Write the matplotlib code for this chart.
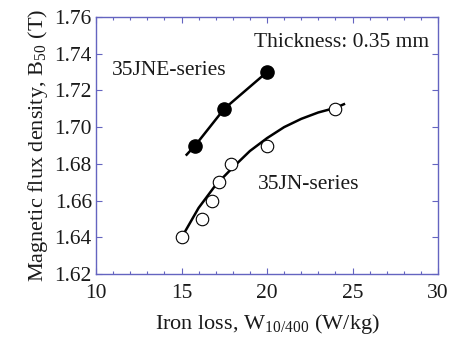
import numpy as np
import matplotlib
matplotlib.use('Agg')
import matplotlib.pyplot as plt
from matplotlib.ticker import MultipleLocator

plt.rcParams['font.family'] = ['Liberation Serif', 'DejaVu Serif']
plt.rcParams['mathtext.fontset'] = 'stix'

# measured points
jne_x = [15.8, 17.5, 20.0]
jne_y = [1.69, 1.71, 1.73]
jn_x = [15.0, 16.2, 16.8, 17.2, 17.9, 20.0, 24.0]
jn_y = [1.64, 1.65, 1.66, 1.67, 1.68, 1.69, 1.71]

# fitted curves
jne_fit_x = [15.3, 15.8, 17.5, 20.0]
jne_fit_y = [1.685, 1.690, 1.710, 1.730]
jn_fit_x = [15.2, 16.0, 17.0, 18.0, 19.0, 20.0, 21.0, 22.0, 23.0, 24.0, 24.5]
jn_fit_y = [1.643, 1.656, 1.6685, 1.678, 1.687, 1.694, 1.700, 1.7045, 1.708, 1.7105, 1.7125]

axcol = '#6464c0'
txtcol = '#1a1a1a'

fig = plt.figure(figsize=(4.51, 3.40), dpi=100)
ax = fig.add_axes([96/451, 1-274/340, (438-96)/451, (274-17)/340])

ax.plot(jne_fit_x, jne_fit_y, color='black', lw=1.8, zorder=2)
ax.plot(jn_fit_x, jn_fit_y, color='black', lw=1.8, zorder=2)
ax.plot(jne_x, jne_y, 'o', ms=9.5, mfc='black', mec='black', mew=1, zorder=3)
ax.plot(jn_x, jn_y, 'o', ms=9, mfc='white', mec='black', mew=0.8, zorder=3)

ax.set_xlim(10, 30)
ax.set_ylim(1.62, 1.76)
ax.xaxis.set_major_locator(MultipleLocator(5))
ax.xaxis.set_minor_locator(MultipleLocator(1))
ax.yaxis.set_major_locator(MultipleLocator(0.02))
ax.yaxis.set_major_formatter(matplotlib.ticker.FormatStrFormatter('%.2f'))

for s in ax.spines.values():
    s.set_color(axcol)
    s.set_linewidth(1.0)
ax.tick_params(which='both', direction='in', top=True, right=True, color=axcol,
               labelsize=15.5, labelcolor=txtcol)
ax.tick_params(which='major', length=4, width=0.8)
ax.tick_params(which='minor', length=2.5, width=0.8)
ax.tick_params(axis='x', which='major', pad=7)
ax.tick_params(axis='y', which='major', pad=3)

ax.set_xlabel(r'Iron loss, W$_\mathregular{10/400}$ (W/kg)', fontsize=16, color=txtcol, labelpad=7)
ax.set_ylabel(r'Magnetic flux density, B$_\mathregular{50}$ (T)', fontsize=16, color=txtcol, labelpad=3)

ax.text(0.975, 0.9, 'Thickness: 0.35 mm', transform=ax.transAxes, ha='right', va='center',
        fontsize=15.5, color=txtcol)
ax.text(14.27, 1.731, '35JNE-series', ha='center', va='center', fontsize=15.5, color=txtcol)
ax.text(22.46, 1.6685, '35JN-series', ha='center', va='center', fontsize=15.5, color=txtcol)

fig.savefig('out.png', dpi=100)
